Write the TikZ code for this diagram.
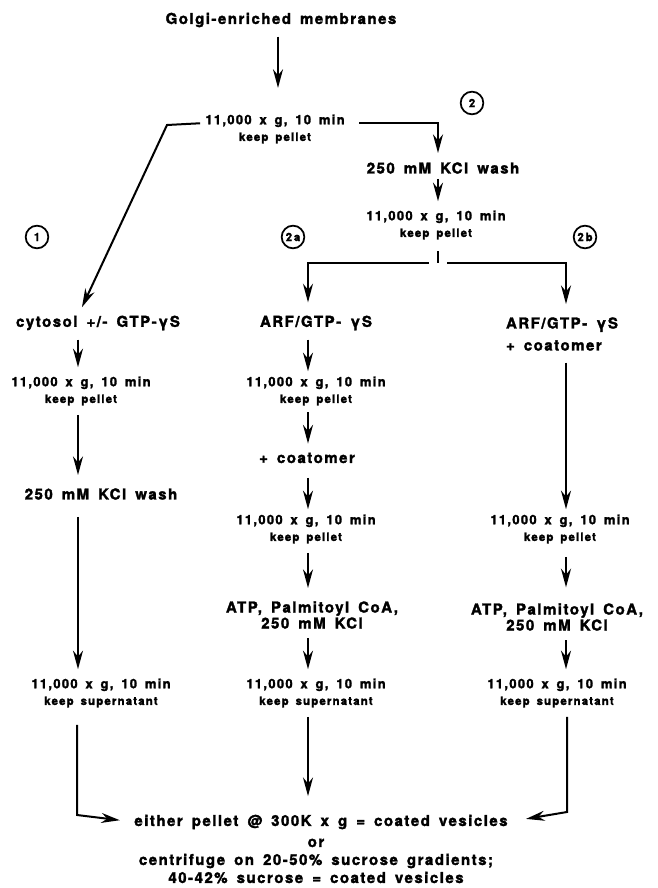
\documentclass[tikz,border=0pt]{standalone}
\usepackage{fontspec}
\setmainfont{TeX Gyre Heros}[BoldFeatures={FakeBold=2}, LetterSpace=10, WordSpace=1.6]
\usetikzlibrary{arrows.meta}
\newcommand{\keepline}[1]{{\fontsize{8.6}{12}\selectfont #1}}

\begin{document}
\begin{tikzpicture}[x=0.75pt, y=-0.75pt,
    every node/.style={inner sep=0pt, outer sep=0pt},
    stage/.style={font=\bfseries\fontsize{11.25}{12}\selectfont, align=center},
    spin/.style={font=\bfseries\fontsize{9.75}{12.5}\selectfont, align=center},
    num/.style={circle, draw, line width=1.3pt, minimum size=17pt, font=\bfseries\fontsize{8.5}{9}\selectfont},
    flow/.style={-{Stealth[length=14pt, width=7.5pt]}, line width=1.5pt, shorten >=7pt, shorten <=7pt},
    link/.style={line width=1.5pt, shorten <=7pt}
]
\useasboundingbox (0,0) rectangle (657,888);

% column lines
\coordinate (colT) at (278,0);
\coordinate (colW) at (438,0);
\coordinate (colL) at (78,0);
\coordinate (colM) at (308,0);
\coordinate (colR) at (566,0);
\coordinate (bendL) at (167,125);
\coordinate (fork) at (438,263);
\coordinate (cornerL) at (77,815);
\coordinate (cornerR) at (567,812);

% top
\node[stage] (golgi) at (281,20) {Golgi-enriched membranes};
\node[spin] (s0) at (275,129) {11,000 x g, 10 min\\\keepline{keep pellet}};
\node[num] (c2) at (472,103) {2};
\node[stage] (wash0) at (443,168) {250 mM KCl wash};
\node[spin] (s2) at (436,225) {11,000 x g, 10 min\\\keepline{keep pellet}};

\node[num] (c1) at (37,237) {1};
\node[num] (c2a) at (293,237) {2\,a};
\node[num] (c2b) at (585,237) {2\,b};

% route 1
\node[stage] (cyt) at (98,323) {cytosol +/- GTP-γS};
\node[spin] (sL1) at (81,391) {11,000 x g, 10 min\\\keepline{keep pellet}};
\node[stage] (washL) at (101,494) {250 mM KCl wash};
\node[spin] (supL) at (101,693) {11,000 x g, 10 min\\\keepline{keep supernatant}};

% route 2a
\node[stage] (arfA) at (316,323) {ARF/GTP- γS};
\node[spin] (sA1) at (316,391) {11,000 x g, 10 min\\\keepline{keep pellet}};
\node[stage] (coatA) at (307,458) {+ coatomer};
\node[spin] (sA2) at (306,529) {11,000 x g, 10 min\\\keepline{keep pellet}};
\node[stage] (atpA) at (312,615) {ATP, Palmitoyl CoA,\\250 mM KCl};
\node[spin] (supA) at (316,693) {11,000 x g, 10 min\\\keepline{keep supernatant}};

% route 2b
\node[stage, align=left] (arfB) at (562,334) {ARF/GTP- γS\\[4.5pt]+ coatomer};
\node[spin] (sB) at (560,529) {11,000 x g, 10 min\\\keepline{keep pellet}};
\node[stage] (atpB) at (557,617) {ATP, Palmitoyl CoA,\\250 mM KCl};
\node[spin] (supB) at (557,693) {11,000 x g, 10 min\\\keepline{keep supernatant}};

% result
\node[stage] (res1) at (321,822) {either pellet @ 300K x g = coated vesicles};
\node[stage] (res2) at (316,861) {or\\[1.5pt]centrifuge on 20-50\% sucrose gradients;\\[1.5pt]40-42\% sucrose = coated vesicles};

% arrows
\draw[flow, shorten >=20pt] (golgi.south -| colT) -- (s0.north -| colT);
\draw[flow, shorten <=4pt] ([yshift=4.5pt]s0.west) -- (bendL) -- (cyt.north -| colL);
\draw[flow, shorten <=11pt] ([yshift=4.5pt]s0.east) -| (wash0.north -| colW);
\draw[flow, shorten <=4pt] (wash0.south -| colW) -- (s2.north -| colW);
\draw[link, shorten <=9pt] (s2.south -| colW) -- (fork);
\draw[flow, shorten >=10pt] (fork) -| (arfA.north -| colM);
\draw[flow, shorten >=10pt] (fork) -| (arfB.north -| colR);

\draw[flow] (cyt.south -| colL) -- (sL1.north -| colL);
\draw[flow, shorten >=10pt] (sL1.south -| colL) -- (washL.north -| colL);
\draw[flow, shorten <=13pt] (washL.south -| colL) -- (supL.north -| colL);
\draw[flow, shorten <=13pt, shorten >=11pt] (supL.south -| cornerL) -- (cornerL) -- (res1.west);

\draw[flow, shorten >=4pt] (arfA.south -| colM) -- (sA1.north -| colM);
\draw[flow, shorten <=5pt] (sA1.south -| colM) -- (coatA.north -| colM);
\draw[flow, shorten <=11pt, shorten >=4pt] (coatA.south -| colM) -- (sA2.north -| colM);
\draw[flow, shorten >=10pt] (sA2.south -| colM) -- (atpA.north -| colM);
\draw[flow] (atpA.south -| colM) -- (supA.north -| colM);
\draw[flow, shorten >=14pt] (supA.south -| colM) -- (res1.north -| colM);

\draw[flow, shorten <=9pt, shorten >=4pt] (arfB.south -| colR) -- (sB.north -| colR);
\draw[flow, shorten <=10pt, shorten >=12pt] (sB.south -| colR) -- (atpB.north -| colR);
\draw[flow] (atpB.south -| colR) -- (supB.north -| colR);
\draw[flow, shorten >=14pt] (supB.south -| cornerR) -- (cornerR) -- (res1.east);
\end{tikzpicture}
\end{document}
